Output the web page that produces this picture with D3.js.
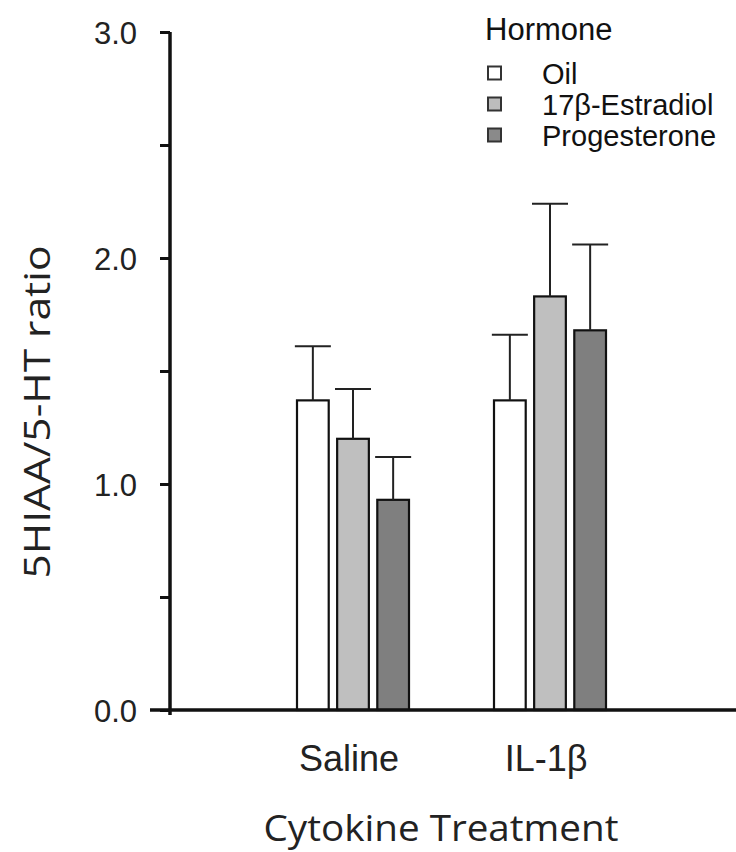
<!DOCTYPE html>
<html>
<head>
<meta charset="utf-8">
<script src="https://cdn.jsdelivr.net/npm/d3@7"></script>
<style>
  html, body { margin: 0; padding: 0; background: #fff; }
  svg { display: block; }
</style>
</head>
<body>
<svg id="chart" width="736" height="852"></svg>
<script>
// ---- data ----
const groups = ["Saline", "IL-1β"];
const hormones = ["Oil", "17β-Estradiol", "Progesterone"];
const salineMeans = [1.37, 1.20, 0.93];
const salineErrors = [0.24, 0.22, 0.19];
const il1bMeans = [1.37, 1.83, 1.68];
const il1bErrors = [0.29, 0.41, 0.38];
const yTickValues = [0, 0.5, 1.0, 1.5, 2.0, 2.5, 3.0];
const yTickLabels = ["0.0", "", "1.0", "", "2.0", "", "3.0"];
const hormoneFills = ["#ffffff", "#bfbfbf", "#7f7f7f"];
const legendFills = ["#ffffff", "#bdbdbd", "#8a8a8a"];
const yTitle = "5HIAA/5-HT ratio";
const xTitle = "Cytokine Treatment";
const legendTitle = "Hormone";

const meansByGroup = [salineMeans, il1bMeans];
const errorsByGroup = [salineErrors, il1bErrors];
const data = [];
groups.forEach((g, gi) => hormones.forEach((h, hi) => {
  data.push({ group: g, hormone: h, mean: meansByGroup[gi][hi], err: errorsByGroup[gi][hi] });
}));

// ---- layout ----
const svg = d3.select("#chart");
const axisX = 170, baseY = 710, topY = 32;
const y = d3.scaleLinear().domain([0, 3]).range([baseY, topY]);
const xGroup = d3.scalePoint().domain(groups).range([353, 550]);
const xInner = d3.scaleBand().domain(hormones).range([-56, 56]).paddingInner(0.21).paddingOuter(0);
const color = d3.scaleOrdinal().domain(hormones).range(hormoneFills);

const ink = "#111";

// bars
const barG = svg.append("g");
barG.selectAll("rect.bar").data(data).join("rect")
  .attr("class", "bar")
  .attr("x", d => xGroup(d.group) + xInner(d.hormone))
  .attr("y", d => y(d.mean))
  .attr("width", xInner.bandwidth())
  .attr("height", d => y(0) - y(d.mean))
  .attr("fill", d => color(d.hormone))
  .attr("stroke", ink)
  .attr("stroke-width", 2.2);

// error bars (upper only)
const capHalf = 18;
const errG = svg.append("g").attr("stroke", "#222").attr("stroke-width", 2);
errG.selectAll("line.ev").data(data).join("line")
  .attr("class", "ev")
  .attr("x1", d => xGroup(d.group) + xInner(d.hormone) + xInner.bandwidth() / 2)
  .attr("x2", d => xGroup(d.group) + xInner(d.hormone) + xInner.bandwidth() / 2)
  .attr("y1", d => y(d.mean))
  .attr("y2", d => y(d.mean + d.err));
errG.selectAll("line.cap").data(data).join("line")
  .attr("class", "cap")
  .attr("x1", d => xGroup(d.group) + xInner(d.hormone) + xInner.bandwidth() / 2 - capHalf)
  .attr("x2", d => xGroup(d.group) + xInner(d.hormone) + xInner.bandwidth() / 2 + capHalf)
  .attr("y1", d => y(d.mean + d.err))
  .attr("y2", d => y(d.mean + d.err));

// y axis
const yAxis = d3.axisLeft(y)
  .tickValues(yTickValues)
  .tickFormat((d, i) => yTickLabels[i])
  .tickSize(10)
  .tickSizeOuter(0)
  .tickPadding(23);
const yG = svg.append("g").attr("transform", `translate(${axisX},0)`).call(yAxis);
yG.select(".domain").remove();
yG.selectAll(".tick line").attr("stroke", ink).attr("stroke-width", 3);
yG.selectAll(".tick text")
  .attr("font-family", "'Liberation Sans', Arial, sans-serif")
  .attr("font-size", 31)
  .attr("fill", "#222")
  .attr("dy", "0.36em");
svg.append("line")
  .attr("x1", axisX).attr("x2", axisX)
  .attr("y1", y(3)).attr("y2", y(0) + 5)
  .attr("stroke", ink).attr("stroke-width", 3.5);

// x axis baseline
svg.append("line")
  .attr("x1", 150).attr("x2", 736)
  .attr("y1", y(0)).attr("y2", y(0))
  .attr("stroke", ink).attr("stroke-width", 3.5);

// category labels
svg.append("g").selectAll("text").data(groups).join("text")
  .attr("x", d => xGroup(d) - 4)
  .attr("y", 771)
  .attr("text-anchor", "middle")
  .attr("font-family", "'Liberation Sans', Arial, sans-serif")
  .attr("font-size", 36)
  .attr("fill", "#222")
  .text(d => d);

// axis titles
svg.append("text")
  .attr("x", 441).attr("y", 841)
  .attr("text-anchor", "middle")
  .attr("font-family", "'Open Sans', sans-serif")
  .attr("font-size", 36)
  .attr("fill", "#222")
  .attr("textLength", 355)
  .attr("lengthAdjust", "spacingAndGlyphs")
  .text(xTitle);

svg.append("text")
  .attr("transform", "translate(50,412) rotate(-90)")
  .attr("text-anchor", "middle")
  .attr("font-family", "'Open Sans', sans-serif")
  .attr("font-size", 37)
  .attr("fill", "#222")
  .attr("textLength", 333)
  .attr("lengthAdjust", "spacingAndGlyphs")
  .text(yTitle);

// legend
const legend = svg.append("g").attr("font-family", "'Liberation Sans', Arial, sans-serif").attr("fill", "#111");
legend.append("text").attr("x", 485).attr("y", 40).attr("font-size", 31).text(legendTitle);
const legendRowY = d3.scalePoint().domain(hormones).range([73, 135]);
const items = legend.selectAll("g.item").data(hormones).join("g").attr("class", "item");
items.append("rect")
  .attr("x", 488).attr("y", d => legendRowY(d) - 6.5)
  .attr("width", 13).attr("height", 13)
  .attr("fill", (d, i) => legendFills[i])
  .attr("stroke", "#333").attr("stroke-width", 2);
items.append("text")
  .attr("x", 542).attr("y", d => legendRowY(d) + 10.5)
  .attr("font-size", 29)
  .text(d => d);
</script>
</body>
</html>
